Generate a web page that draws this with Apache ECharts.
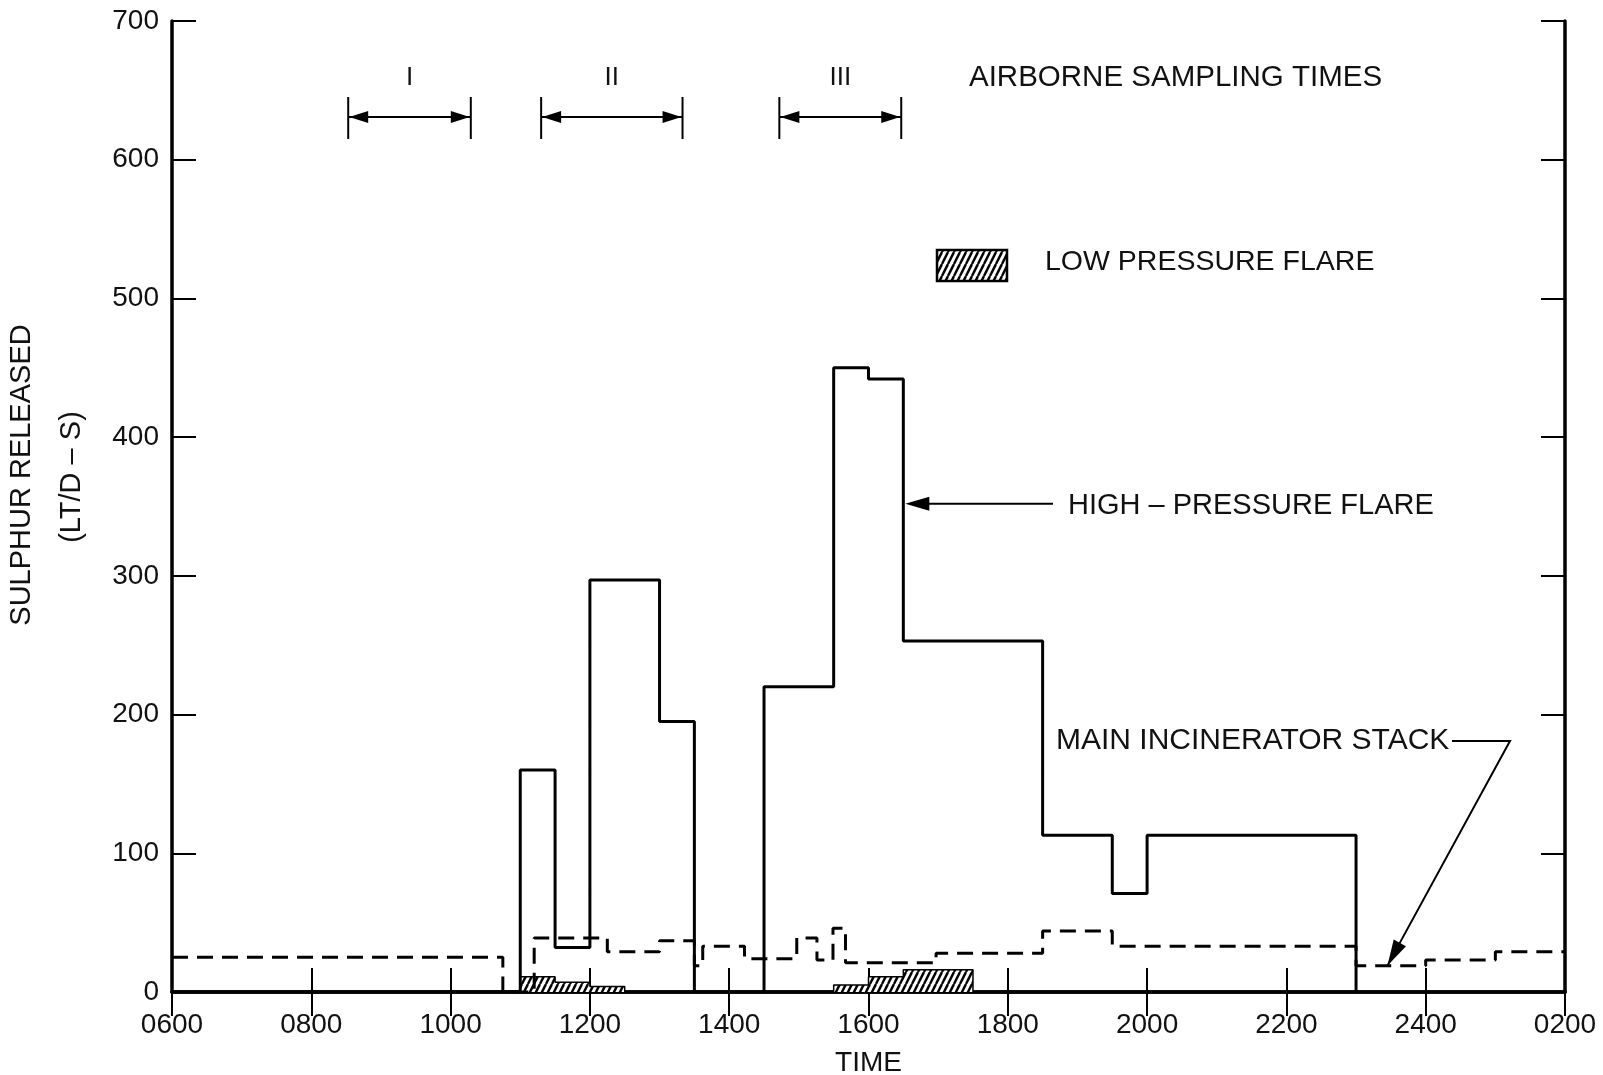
<!DOCTYPE html>
<html><head><meta charset="utf-8">
<script src="https://cdn.jsdelivr.net/npm/echarts@6/dist/echarts.min.js"></script>
<style>html,body{margin:0;padding:0;background:#fff}#c{width:1603px;height:1075px}</style>
</head><body><div id="c"></div>
<script>
// ---- data ----
const xTickLabels = ['0600','0800','1000','1200','1400','1600','1800','2000','2200','2400','0200'];
// high-pressure flare: value holds from time[i] to time[i+1]
const hpTimes  = [6, 11.0, 11.5, 12.0, 13.0, 13.5, 14.5, 15.5, 16.0, 16.5, 18.5, 19.5, 20.0, 23.0];
const hpValues = [0, 160,  32,   297,  195,  0,    220,  450,  442,  253,  113,  71,   113,  0];
// main incinerator stack
const miTimes  = [6, 10.75, 11.2, 12.25, 13.0, 13.5, 13.62, 14.22, 14.97, 15.26, 15.49, 15.67, 16.97, 18.5, 19.5, 23.0, 24.0, 25.0, 26];
const miValues = [25, 0,    39,   29,    37,   19,   33,    24,    39,    23,    46,    21,    28,    44,   33,   19,   23,   29,   29];
// low pressure flare
const lpTimes  = [11.0, 11.0, 11.5, 12.0, 12.5, 15.5, 16.0, 16.5, 17.5];
const lpValues = [0,    11,   7,    4,    0,    5,    11,   16,   0];
// airborne sampling times
const samplingLabels = ['I', 'II', 'III'];
const samplingStart  = [8.53, 11.3, 14.72];
const samplingEnd    = [10.29, 13.33, 16.47];

const FONT = 'Liberation Sans, Arial, Helvetica, sans-serif';
const INK = '#111';

// hatch pattern
function makeHatch() {
  const c = document.createElement('canvas');
  c.width = 6; c.height = 12;
  const g = c.getContext('2d');
  g.fillStyle = '#fff'; g.fillRect(0, 0, 6, 12);
  g.strokeStyle = '#000'; g.lineWidth = 2.4;
  for (const off of [-6, 0, 6]) {
    g.beginPath(); g.moveTo(off, 12); g.lineTo(off + 6, 0); g.stroke();
  }
  return c;
}
const hatch = { image: makeHatch(), repeat: 'repeat' };

const zip = (a, b) => a.map((v, i) => [v, b[i]]);

const chart = echarts.init(document.getElementById('c'), null, { renderer: 'canvas' });

const axisLineStyle = { color: '#000', width: 3.5 };
const tickStyle = { color: '#000', width: 2 };

const option = {
  animation: false,
  backgroundColor: '#fff',
  grid: { left: 172, right: 38, top: 21, bottom: 83, containLabel: false, outerBoundsMode: 'none' },
  xAxis: [
    {
      type: 'value', min: 6, max: 26, interval: 2, position: 'bottom',
      axisLine: { show: true, lineStyle: axisLineStyle },
      axisTick: { show: true, inside: true, length: 24, lineStyle: tickStyle },
      axisLabel: {
        formatter: v => xTickLabels[Math.round((v - 6) / 2)],
        fontSize: 28, color: INK, margin: 19, fontFamily: FONT
      },
      splitLine: { show: false },
      name: 'TIME', nameLocation: 'middle', nameGap: 57,
      nameTextStyle: { fontSize: 28, color: INK, fontFamily: FONT }
    },
    {
      type: 'value', min: 6, max: 26, interval: 2, position: 'top',
      axisLine: { show: true, lineStyle: axisLineStyle },
      axisTick: { show: true, inside: true, length: 24, lineStyle: tickStyle },
      axisLabel: { show: false },
      splitLine: { show: false }
    }
  ],
  yAxis: [
    {
      type: 'value', min: 0, max: 700, interval: 100, position: 'left',
      axisLine: { show: true, lineStyle: axisLineStyle },
      axisTick: { show: true, inside: true, length: 24, lineStyle: tickStyle },
      axisLabel: { fontSize: 28, color: INK, margin: 13, fontFamily: FONT },
      splitLine: { show: false }
    },
    {
      type: 'value', min: 0, max: 700, interval: 100, position: 'right',
      axisLine: { show: true, lineStyle: axisLineStyle },
      axisTick: { show: true, inside: true, length: 24, lineStyle: tickStyle },
      axisLabel: { show: false },
      splitLine: { show: false }
    }
  ],
  series: [
    {
      name: 'LOW PRESSURE FLARE', type: 'line', step: 'end',
      data: zip(lpTimes, lpValues), showSymbol: false, z: 2,
      lineStyle: { color: '#000', width: 1.5 },
      areaStyle: { color: hatch, opacity: 1 }
    },
    {
      name: 'MAIN INCINERATOR STACK', type: 'line', step: 'end',
      data: zip(miTimes, miValues), showSymbol: false, z: 3,
      lineStyle: { color: '#000', width: 3, type: [16, 9] }
    },
    {
      name: 'HIGH – PRESSURE FLARE', type: 'line', step: 'end',
      data: zip(hpTimes, hpValues), showSymbol: false, z: 4,
      lineStyle: { color: '#000', width: 3 }
    },
    {
      name: 'AIRBORNE SAMPLING TIMES', type: 'custom', z: 5,
      data: samplingStart.map((s, i) => [s, samplingEnd[i], i]),
      renderItem: (params, api) => {
        const top = params.coordSys.y;
        const x1 = api.coord([api.value(0), 0])[0];
        const x2 = api.coord([api.value(1), 0])[0];
        const idx = api.value(2);
        const ya = top + 96;
        const s = { stroke: '#000', lineWidth: 2 };
        return {
          type: 'group',
          children: [
            { type: 'line', shape: { x1: x1, y1: ya, x2: x2, y2: ya }, style: s },
            { type: 'line', shape: { x1: x1, y1: top + 76, x2: x1, y2: top + 118 }, style: s },
            { type: 'line', shape: { x1: x2, y1: top + 76, x2: x2, y2: top + 118 }, style: s },
            { type: 'polygon', shape: { points: [[x1 + 1, ya], [x1 + 20, ya - 6], [x1 + 20, ya + 6]] }, style: { fill: '#000' } },
            { type: 'polygon', shape: { points: [[x2 - 1, ya], [x2 - 20, ya - 6], [x2 - 20, ya + 6]] }, style: { fill: '#000' } },
            { type: 'text', style: { text: samplingLabels[idx], x: (x1 + x2) / 2, y: top + 57,
              textAlign: 'center', textVerticalAlign: 'middle', fontSize: 26, fontFamily: FONT, fill: INK } }
          ]
        };
      }
    }
  ]
};
chart.setOption(option);

// annotations that point to the data
const hpTip = chart.convertToPixel({ xAxisIndex: 0, yAxisIndex: 0 }, [16.5, 352]);
const miTip = chart.convertToPixel({ xAxisIndex: 0, yAxisIndex: 0 }, [23.45, 19]);

function arrowHead(tip, from, len, half) {
  const dx = tip[0] - from[0], dy = tip[1] - from[1];
  const d = Math.hypot(dx, dy), ux = dx / d, uy = dy / d;
  const bx = tip[0] - ux * len, by = tip[1] - uy * len;
  return [[tip[0], tip[1]], [bx - uy * half, by + ux * half], [bx + uy * half, by - ux * half]];
}

const txt = (text, x, y, size) => ({
  type: 'text', x: x, y: y,
  style: { text: text, fontSize: size, fontFamily: FONT, fill: INK, textVerticalAlign: 'middle' }
});

const miCorner = [1510, 741];
chart.setOption({
  graphic: [
    txt('AIRBORNE SAMPLING TIMES', 969, 78, 29.5),
    { type: 'rect', shape: { x: 937, y: 250, width: 70, height: 31 }, style: { fill: hatch, stroke: '#000', lineWidth: 2.5 } },
    txt('LOW PRESSURE FLARE', 1045, 262, 28.5),
    txt('HIGH – PRESSURE FLARE', 1068, 506, 29),
    { type: 'line', shape: { x1: hpTip[0] + 20, y1: hpTip[1], x2: 1053, y2: hpTip[1] }, style: { stroke: '#000', lineWidth: 2 } },
    { type: 'polygon', shape: { points: arrowHead([hpTip[0] + 2, hpTip[1]], [1053, hpTip[1]], 24, 7) }, style: { fill: '#000' } },
    txt('MAIN INCINERATOR STACK', 1056, 741, 30),
    { type: 'polyline', shape: { points: [[1452, 741], miCorner, miTip] }, style: { stroke: '#000', lineWidth: 2, fill: null } },
    { type: 'polygon', shape: { points: arrowHead(miTip, miCorner, 26, 7) }, style: { fill: '#000' } },
    { type: 'text', x: 22, y: 475, rotation: Math.PI / 2,
      style: { text: 'SULPHUR RELEASED', fontSize: 29, fontFamily: FONT, fill: INK, textAlign: 'center', textVerticalAlign: 'middle' } },
    { type: 'text', x: 72, y: 477, rotation: Math.PI / 2,
      style: { text: '(LT/D – S)', fontSize: 29, fontFamily: FONT, fill: INK, textAlign: 'center', textVerticalAlign: 'middle' } }
  ]
});
</script>
</body></html>
